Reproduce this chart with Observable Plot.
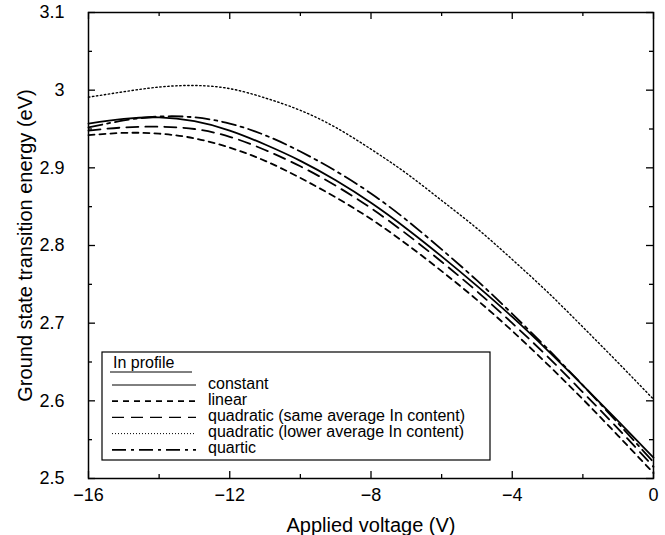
<!DOCTYPE html>
<html>
<head>
<meta charset="utf-8">
<script src="https://cdn.jsdelivr.net/npm/d3@7"></script>
<script src="https://cdn.jsdelivr.net/npm/@observablehq/plot@0.6"></script>
<style>
  body { margin: 0; background: #fff; }
  #chart svg { display: block; }
</style>
</head>
<body>
<div id="chart"></div>
<script>
// ---- data ----
const voltage = [-16,-15,-14,-13,-12,-11,-10,-9,-8,-7,-6,-5,-4,-3,-2,-1,0];
const constant  = [2.957,2.963,2.965,2.960,2.948,2.930,2.909,2.884,2.855,2.822,2.786,2.748,2.708,2.665,2.620,2.574,2.527];
const linear    = [2.942,2.945,2.944,2.938,2.926,2.909,2.887,2.862,2.834,2.802,2.767,2.730,2.690,2.647,2.602,2.555,2.507];
const quadSame  = [2.948,2.952,2.953,2.950,2.940,2.923,2.902,2.877,2.848,2.815,2.779,2.741,2.700,2.657,2.611,2.564,2.515];
const quadLower = [2.991,2.998,3.004,3.006,3.002,2.990,2.974,2.952,2.924,2.893,2.858,2.822,2.782,2.740,2.695,2.649,2.602];
const quartic   = [2.952,2.961,2.966,2.965,2.957,2.942,2.921,2.896,2.867,2.833,2.795,2.755,2.712,2.667,2.620,2.571,2.521];

const seriesNames = ["constant","linear","quadratic (same average In content)","quadratic (lower average In content)","quartic"];
const seriesValues = [constant, linear, quadSame, quadLower, quartic];
const legendTitle = "In profile";

const xMajor = [-16,-12,-8,-4,0];
const xMinor = [-14,-10,-6,-2];
const yMajor = [2.5,2.6,2.7,2.8,2.9,3,3.1];
const yMinor = [2.55,2.65,2.75,2.85,2.95,3.05];

// ---- styles ----
const styles = [
  {strokeWidth: 1.8, dash: null,        lw: 1.0, ldash: null},
  {strokeWidth: 1.8, dash: "6,5",       lw: 1.8, ldash: "6,5"},
  {strokeWidth: 1.8, dash: "12,7",      lw: 1.3, ldash: "12,7"},
  {strokeWidth: 1.4, dash: "1.4,2.6",   lw: 1.0, ldash: "1,2"},
  {strokeWidth: 1.8, dash: "14,5,3,5",  lw: 1.8, ldash: "14,5,3,5"}
];

const minus = d => d < 0 ? "\u2212" + Math.abs(d) : String(d);
const font = "'Liberation Sans', Arial, Helvetica, sans-serif";

const W = 665, H = 535, mL = 88, mR = 12, mT = 12, mB = 57;
const fw = W - mL - mR, fh = H - mT - mB;
const majorLen = 7, minorLen = 4;

const lineMarks = seriesValues.map((vals, k) =>
  Plot.line(voltage.map((v, i) => ({v, e: vals[i]})), {
    x: "v", y: "e", stroke: "black",
    strokeWidth: styles[k].strokeWidth,
    strokeDasharray: styles[k].dash,
    curve: "natural"
  })
);

// inward tick marks on all four sides (rules inset to a short length)
const tickMarks = [
  Plot.ruleX(xMajor, {x: d => d, insetTop: fh - majorLen, stroke: "black", strokeWidth: 1.3}),
  Plot.ruleX(xMajor, {x: d => d, insetBottom: fh - majorLen, stroke: "black", strokeWidth: 1.3}),
  Plot.ruleX(xMinor, {x: d => d, insetTop: fh - minorLen, stroke: "black", strokeWidth: 1.3}),
  Plot.ruleX(xMinor, {x: d => d, insetBottom: fh - minorLen, stroke: "black", strokeWidth: 1.3}),
  Plot.ruleY(yMajor, {y: d => d, insetRight: fw - majorLen, stroke: "black", strokeWidth: 1.3}),
  Plot.ruleY(yMajor, {y: d => d, insetLeft: fw - majorLen, stroke: "black", strokeWidth: 1.3}),
  Plot.ruleY(yMinor, {y: d => d, insetRight: fw - minorLen, stroke: "black", strokeWidth: 1.3}),
  Plot.ruleY(yMinor, {y: d => d, insetLeft: fw - minorLen, stroke: "black", strokeWidth: 1.3})
];

const chart = Plot.plot({
  width: W,
  height: H,
  marginLeft: mL,
  marginRight: mR,
  marginTop: mT,
  marginBottom: mB,
  style: {fontFamily: font, fontSize: "18px", color: "black", background: "white"},
  x: {domain: [-16, 0]},
  y: {domain: [2.5, 3.1]},
  marks: [
    ...lineMarks,
    ...tickMarks,
    Plot.axisX({anchor: "bottom", ticks: xMajor, tickSize: 0, tickPadding: 10, tickFormat: minus, fontSize: 18,
      label: "Applied voltage (V)", labelAnchor: "center", labelArrow: "none", labelOffset: 53}),
    Plot.axisY({anchor: "left", ticks: yMajor, tickSize: 0, tickPadding: 24, tickFormat: d => String(d), fontSize: 18,
      label: "Ground state transition energy (eV)", labelAnchor: "center", labelArrow: "none", labelOffset: 71}),
    Plot.frame({stroke: "black", strokeWidth: 1.5})
  ]
});

document.getElementById("chart").appendChild(chart);

// axis titles a bit larger than tick labels
d3.select(chart).selectAll("g[aria-label='x-axis label'] text, g[aria-label='y-axis label'] text")
  .attr("font-size", 20);

// ---- legend box drawn inside the svg ----
const svg = d3.select(chart);
const lg = svg.append("g").attr("font-family", font).attr("font-size", 16)
  .attr("fill", "black").attr("text-anchor", "start");
lg.append("rect").attr("x", 102).attr("y", 352).attr("width", 388).attr("height", 108)
  .attr("fill", "white").attr("stroke", "black").attr("stroke-width", 1.2);
lg.append("text").attr("x", 113).attr("y", 362).attr("dy", "0.35em").text(legendTitle);
lg.append("line").attr("x1", 110).attr("x2", 192).attr("y1", 372).attr("y2", 372)
  .attr("stroke", "black").attr("stroke-width", 1);
seriesNames.forEach((name, k) => {
  const y = 383 + k * 16.2;
  lg.append("line").attr("x1", 112).attr("x2", 196).attr("y1", y + 2).attr("y2", y + 2)
    .attr("stroke", "black").attr("stroke-width", styles[k].lw)
    .attr("stroke-dasharray", styles[k].ldash);
  lg.append("text").attr("x", 208).attr("y", y).attr("dy", "0.35em").text(name);
});
</script>
</body>
</html>
